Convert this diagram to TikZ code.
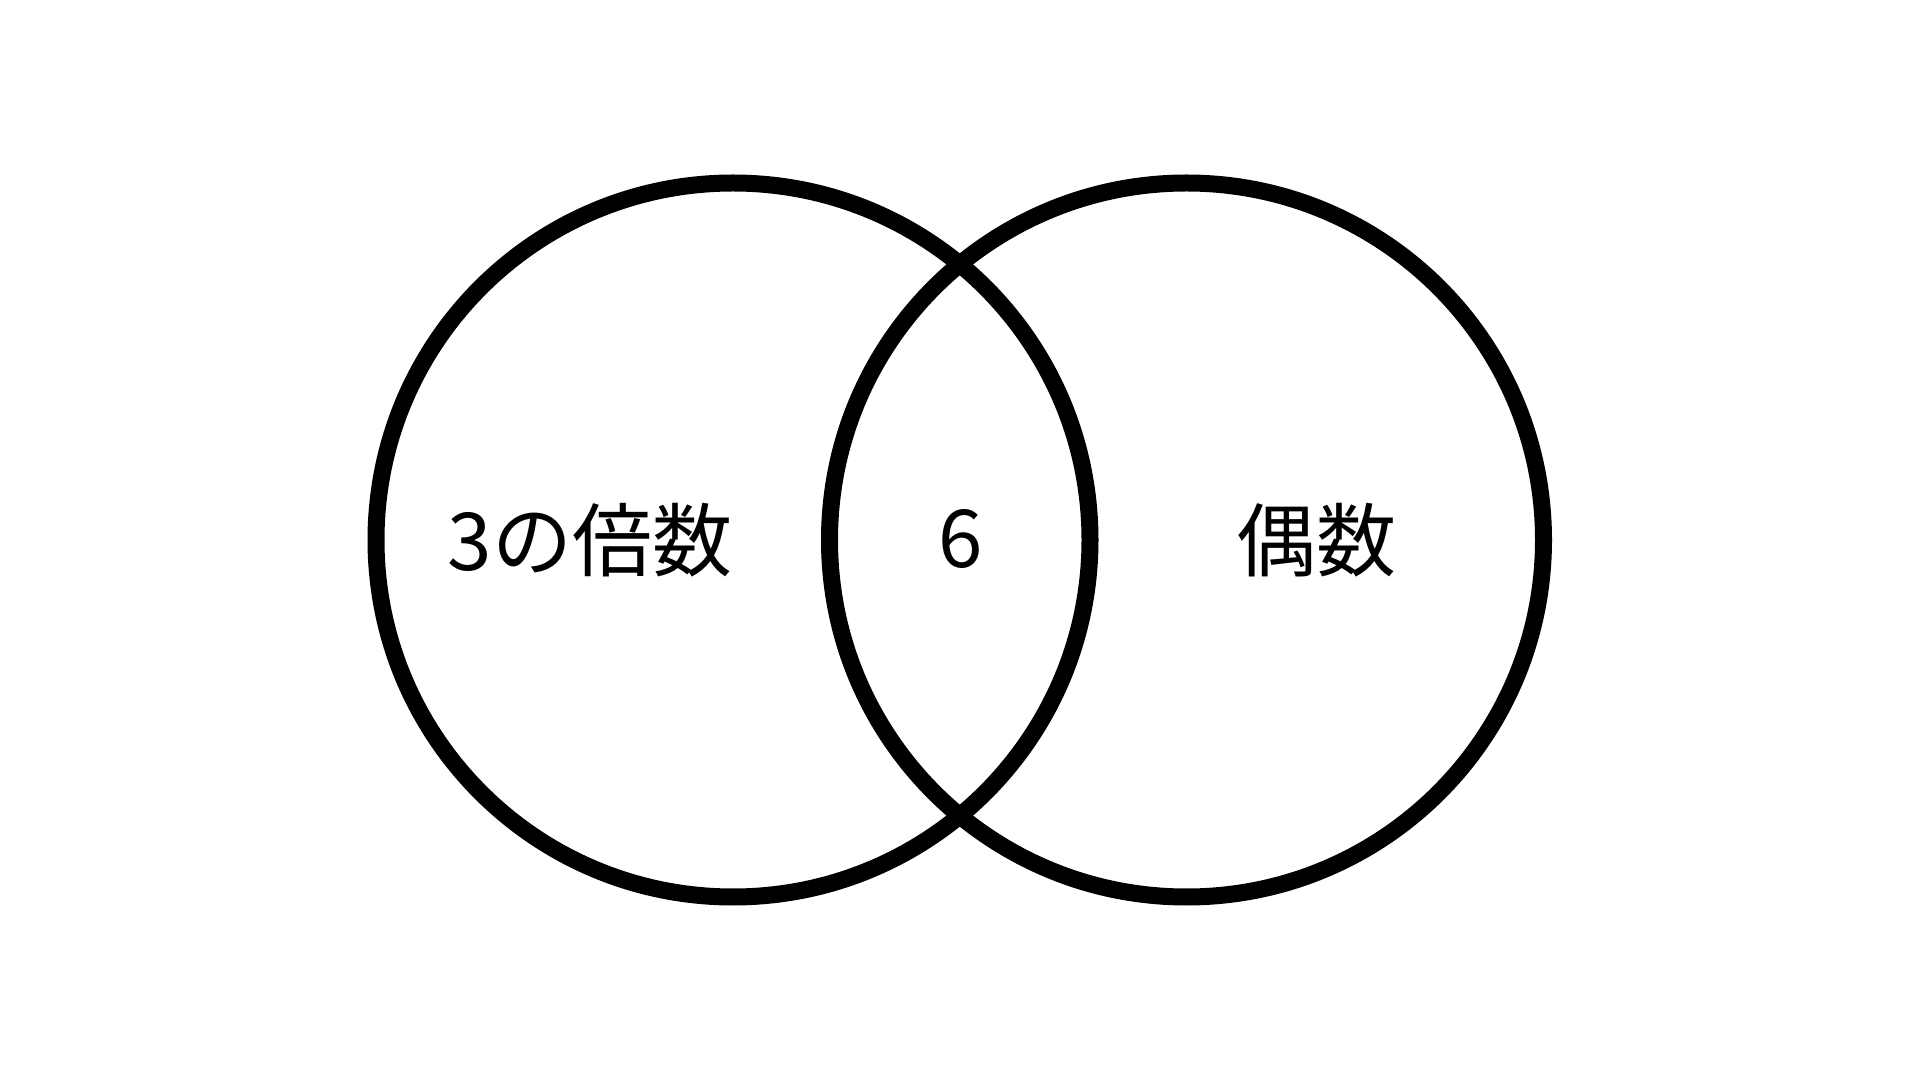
\documentclass[tikz,border=0pt]{standalone}
\usepackage{fontspec}
\newfontfamily\cjk{Noto Sans CJK JP}
\begin{document}
\begin{tikzpicture}[x=1pt,y=1pt,
  ring/.style={draw=black,line width=17pt},
  lbl/.style={inner sep=0pt,font=\cjk\fontsize{80}{96}\selectfont}]
\useasboundingbox[fill=white] (0,0) rectangle (1920,1080);
\draw[ring] (733,540) circle[radius=357];
\draw[ring] (1186.5,540) circle[radius=357];
\node[lbl] (a) at (590,540) {3の倍数};
\node[lbl] (b) at (961,541) {6};
\node[lbl] (c) at (1316,540) {偶数};
\end{tikzpicture}
\end{document}
